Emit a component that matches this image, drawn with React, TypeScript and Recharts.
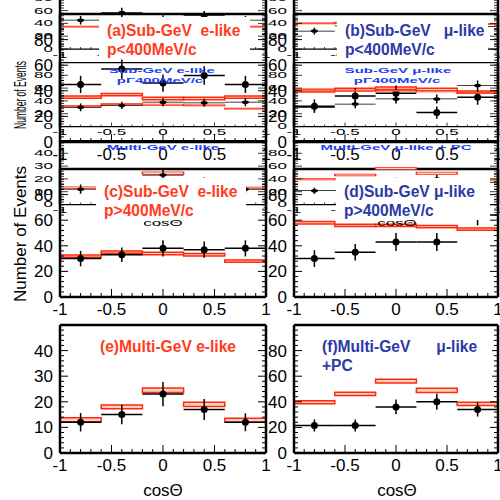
import React from "react";
import { ComposedChart, XAxis, YAxis, Scatter, ErrorBar, ReferenceArea } from "recharts";

// zenith-angle bins (cos theta), five bins of width 0.4
const BINS = [-0.8, -0.4, 0, 0.4, 0.8];
const BIN_HALF = [0.2, 0.2, 0.2, 0.2, 0.2];

const X_TICKS = [-1, -0.5, 0, 0.5, 1];
const X_MINOR = [-0.9, -0.8, -0.7, -0.6, -0.4, -0.3, -0.2, -0.1, 0.1, 0.2, 0.3, 0.4, 0.6, 0.7, 0.8, 0.9];
const Y_TICKS_100 = [0, 20, 40, 60, 80];
const Y_MINOR_100 = [4, 8, 12, 16, 24, 28, 32, 36, 44, 48, 52, 56, 64, 68, 72, 76, 84, 88, 92, 96];
const Y_TICKS_50 = [0, 10, 20, 30, 40];
const Y_MINOR_50 = [2, 4, 6, 8, 12, 14, 16, 18, 22, 24, 26, 28, 32, 34, 36, 38, 42, 44, 46, 48];

// (a) Sub-GeV e-like p<400MeV/c
const dataA = [45, 57, 46, 52, 45];
const errA = [6.7, 7.5, 6.8, 7.2, 6.7];
const mcA = [35, 37, 34, 34, 35];
const mcErrA = [0.9, 0.9, 0.9, 0.9, 0.9];

// (b) Sub-GeV mu-like p<400MeV/c
const dataB = [28, 36, 38, 23, 35];
const errB = [5.3, 6, 6.2, 4.8, 5.9];
const mcB = [40, 41, 42, 41, 39];
const mcErrB = [0.9, 0.9, 0.9, 0.9, 0.9];

// (c) Sub-GeV e-like p>400MeV/c
const dataC = [30, 33, 38, 37, 38];
const errC = [6, 5.6, 6.3, 6.3, 6.3];
const mcC = [32, 35, 34, 33, 28];
const mcErrC = [0.9, 0.9, 0.9, 0.9, 0.9];

// (d) Sub-GeV mu-like p>400MeV/c
const dataD = [30, 35, 43, 43, 64];
const errD = [6.5, 6.5, 7, 7, 8];
const mcD = [58, 56, 56, 55, 53];
const mcErrD = [0.9, 0.9, 0.9, 0.9, 0.9];

// (e) Multi-GeV e-like
const dataE = [12, 15, 23, 17, 12];
const errE = [3.6, 3.8, 4.7, 4.1, 3.5];
const mcE = [13, 18, 24.5, 19, 12.8];
const mcErrE = [0.75, 0.75, 0.9, 0.85, 0.8];

// (f) Multi-GeV mu-like + PC
const dataF = [21.5, 21.5, 36, 40, 34];
const errF = [4.7, 4.7, 5.8, 6.2, 5.5];
const mcF = [39.6, 46.2, 56.2, 48.9, 38.4];
const mcErrF = [1.2, 1.3, 1.5, 1.7, 1.3];

const FONT = "'Liberation Sans', Arial, Helvetica, sans-serif";
const MC_RED = "#ff2a0a";
const MC_FILL = "#ffd0c6";
const TXT_RED = "#ff3c1e";
const TXT_BLUE = "#2b3aa6";
const TXT_BRIGHT_BLUE = "#2040f0";

type PanelDef = {
  left: number;
  top: number;
  width: number;
  height: number;
  yMax: number;
  data: number[];
  err: number[];
  mc: number[];
  mcErr: number[];
};

const ROW_TOPS = [14, 169, 325];
const PANEL_H = 128;
const COL_LEFT = [60, 294];
const COL_W = [206, 204];

const PANELS: PanelDef[] = [
  { left: COL_LEFT[0], top: ROW_TOPS[0], width: COL_W[0], height: PANEL_H, yMax: 100, data: dataA, err: errA, mc: mcA, mcErr: mcErrA },
  { left: COL_LEFT[1], top: ROW_TOPS[0], width: COL_W[1], height: PANEL_H, yMax: 100, data: dataB, err: errB, mc: mcB, mcErr: mcErrB },
  { left: COL_LEFT[0], top: ROW_TOPS[1], width: COL_W[0], height: PANEL_H, yMax: 100, data: dataC, err: errC, mc: mcC, mcErr: mcErrC },
  { left: COL_LEFT[1], top: ROW_TOPS[1], width: COL_W[1], height: PANEL_H, yMax: 100, data: dataD, err: errD, mc: mcD, mcErr: mcErrD },
  { left: COL_LEFT[0], top: ROW_TOPS[2], width: COL_W[0], height: PANEL_H, yMax: 50, data: dataE, err: errE, mc: mcE, mcErr: mcErrE },
  { left: COL_LEFT[1], top: ROW_TOPS[2], width: COL_W[1], height: PANEL_H, yMax: 100, data: dataF, err: errF, mc: mcF, mcErr: mcErrF },
];

const Dot = (props: any) => <circle cx={props.cx} cy={props.cy} r={3.5} fill="#000" />;

// ROOT-style ticks: drawn inward, major long / minor short, labels only on bottom and left
const xTick = (side: "b" | "t") => (props: any) => {
  const v = props.payload.value;
  const major = X_TICKS.includes(v);
  const len = major ? 8 : 4;
  const dir = side === "b" ? -1 : 1;
  return (
    <g>
      <line x1={props.x} x2={props.x} y1={props.y} y2={props.y + dir * len} stroke="#000" strokeWidth={1} />
      {side === "b" && major && (
        <text x={props.x} y={props.y + 18} textAnchor="middle" fontSize={17} fontFamily={FONT} fill="#000">
          {v}
        </text>
      )}
    </g>
  );
};

const yTick = (side: "l" | "r", majors: number[]) => (props: any) => {
  const v = props.payload.value;
  const major = majors.includes(v);
  const len = major ? 8 : 4;
  const dir = side === "l" ? 1 : -1;
  return (
    <g>
      <line x1={props.x} x2={props.x + dir * len} y1={props.y} y2={props.y} stroke="#000" strokeWidth={1} />
      {side === "l" && major && (
        <text x={props.x - 7} y={props.y + 6} textAnchor="end" fontSize={17} fontFamily={FONT} fill="#000">
          {v}
        </text>
      )}
    </g>
  );
};

function Panel({ def }: { def: PanelDef }) {
  const ML = 60, MR = 12, MT = 12, MB = 30;
  const points = BINS.map((x, i) => ({ x, y: def.data[i], ey: def.err[i], ex: BIN_HALF[i] }));
  const frame = { stroke: "#000", strokeWidth: 2.5 };
  const yTicks = def.yMax === 50 ? Y_TICKS_50 : Y_TICKS_100;
  const yAll = [...yTicks, ...(def.yMax === 50 ? Y_MINOR_50 : Y_MINOR_100)];
  const xAll = [...X_TICKS, ...X_MINOR];
  const xd: [number, number] = [-1, 1];
  const yd: [number, number] = [0, def.yMax];
  return (
    <div style={{ position: "absolute", left: def.left - ML, top: def.top - MT }}>
      <ComposedChart
        width={def.width + ML + MR}
        height={def.height + MT + MB}
        margin={{ top: MT - 1, right: MR - 1, bottom: MB - 1, left: ML - 1 }}
      >
        <XAxis xAxisId="b" dataKey="x" type="number" domain={xd} ticks={xAll} interval={0} allowDataOverflow height={1} tickSize={0} tickMargin={0} tickLine={false} axisLine={frame} tick={xTick("b")} />
        <XAxis xAxisId="t" orientation="top" type="number" domain={xd} ticks={xAll} interval={0} allowDataOverflow height={1} tickSize={0} tickMargin={0} tickLine={false} axisLine={frame} tick={xTick("t")} />
        <YAxis yAxisId="l" dataKey="y" type="number" domain={yd} ticks={yAll} interval={0} allowDataOverflow width={1} tickSize={0} tickMargin={0} tickLine={false} axisLine={frame} tick={yTick("l", yTicks)} />
        <YAxis yAxisId="r" orientation="right" type="number" domain={yd} ticks={yAll} interval={0} allowDataOverflow width={1} tickSize={0} tickMargin={0} tickLine={false} axisLine={frame} tick={yTick("r", yTicks)} />
        {BINS.map((x, i) => (
          <ReferenceArea
            key={i}
            xAxisId="b"
            yAxisId="l"
            x1={x - BIN_HALF[i]}
            x2={x + BIN_HALF[i]}
            y1={def.mc[i] - def.mcErr[i]}
            y2={def.mc[i] + def.mcErr[i]}
            stroke={MC_RED}
            strokeWidth={1.5}
            fill={MC_FILL}
            fillOpacity={1}
            ifOverflow="visible"
          />
        ))}
        <Scatter xAxisId="b" yAxisId="l" data={points} isAnimationActive={false} shape={Dot}>
          <ErrorBar dataKey="ey" direction="y" width={0} stroke="#000" strokeWidth={1.5} />
          <ErrorBar dataKey="ex" direction="x" width={0} stroke="#000" strokeWidth={1.5} />
        </Scatter>
      </ComposedChart>
    </div>
  );
}

function Figure() {
  return (
    <>
      {PANELS.map((p, i) => (
        <Panel key={i} def={p} />
      ))}
      <svg width={500} height={500} style={{ position: "absolute", left: 0, top: 0, overflow: "visible" }}>
        <text transform="translate(26,234) rotate(-90)" textAnchor="middle" fontSize={17} fontFamily={FONT} fill="#000">
          Number of Events
        </text>
        <text x={163} y={496} textAnchor="middle" fontSize={17} fontFamily={FONT} fill="#000">cosΘ</text>
        <text x={397} y={496} textAnchor="middle" fontSize={17} fontFamily={FONT} fill="#000">cosΘ</text>
      </svg>
    </>
  );
}

// titles of the vertically squeezed copy, in its own (unscaled) coordinates
const SMALL_TITLES = [
  { x: 162, y: 184, text: "Sub-GeV e-like" },
  { x: 160, y: 204, text: "pΓ400MeV/c" },
  { x: 398, y: 184, text: "Sub-GeV μ-like" },
  { x: 397, y: 204, text: "pΓ400MeV/c" },
  { x: 163, y: 338, text: "Multi-GeV e-like" },
  { x: 396, y: 338, text: "Multi-GeV μ-like + PC" },
];

function SmallTitles() {
  return (
    <svg width={500} height={500} style={{ position: "absolute", left: 0, top: 0, overflow: "visible" }}>
      {SMALL_TITLES.map((t, i) => (
        <text key={i} x={t.x} y={t.y + 5.5} textAnchor="middle" fontSize={15} fontWeight="bold" fontFamily={FONT} fill={TXT_BRIGHT_BLUE}>
          {t.text}
        </text>
      ))}
    </svg>
  );
}

const TITLE_BOXES = [
  { left: 99, top: 17, width: 151, height: 42, color: TXT_RED, lines: ["(a)Sub-GeV  e-like", "p<400MeV/c"] },
  { left: 337, top: 17, width: 151, height: 42, color: TXT_BLUE, lines: ["(b)Sub-GeV   μ-like", "p<400MeV/c"] },
  { left: 96, top: 178, width: 150, height: 42, color: TXT_RED, lines: ["(c)Sub-GeV  e-like", "p>400MeV/c"] },
  { left: 336, top: 178, width: 154, height: 42, color: TXT_BLUE, lines: ["(d)Sub-GeV μ-like", "p>400MeV/c"] },
  { left: 92, top: 333, width: 150, height: 24, color: TXT_RED, lines: ["(e)Multi-GeV e-like"] },
  { left: 314, top: 333, width: 178, height: 44, color: TXT_BLUE, lines: ["(f)Multi-GeV      μ-like", "+PC"] },
];

function BaseTitles() {
  return (
    <>
      {TITLE_BOXES.map((b, i) => (
        <div
          key={i}
          style={{
            position: "absolute",
            left: b.left,
            top: b.top,
            width: b.width,
            height: b.height,
            background: "#fff",
            boxSizing: "border-box",
            paddingLeft: 8,
            paddingTop: 4,
            fontFamily: FONT,
            fontWeight: "bold",
            fontSize: 15.6,
            lineHeight: "19px",
            color: b.color,
            whiteSpace: "pre",
          }}
        >
          {b.lines.map((l, j) => (
            <div key={j}>{l}</div>
          ))}
        </div>
      ))}
    </>
  );
}

export default function App() {
  return (
    <div
      style={{
        position: "fixed",
        left: 0,
        top: 0,
        width: 500,
        height: 500,
        overflow: "hidden",
        background: "#fff",
        fontFamily: FONT,
      }}
    >
      <Figure />
      <div
        style={{
          position: "absolute",
          left: 0,
          top: 0,
          width: 500,
          height: 500,
          transformOrigin: "0 0",
          transform: "translateY(-22px) scaleY(0.5)",
        }}
      >
        <Figure />
        <SmallTitles />
      </div>
      <BaseTitles />
    </div>
  );
}
